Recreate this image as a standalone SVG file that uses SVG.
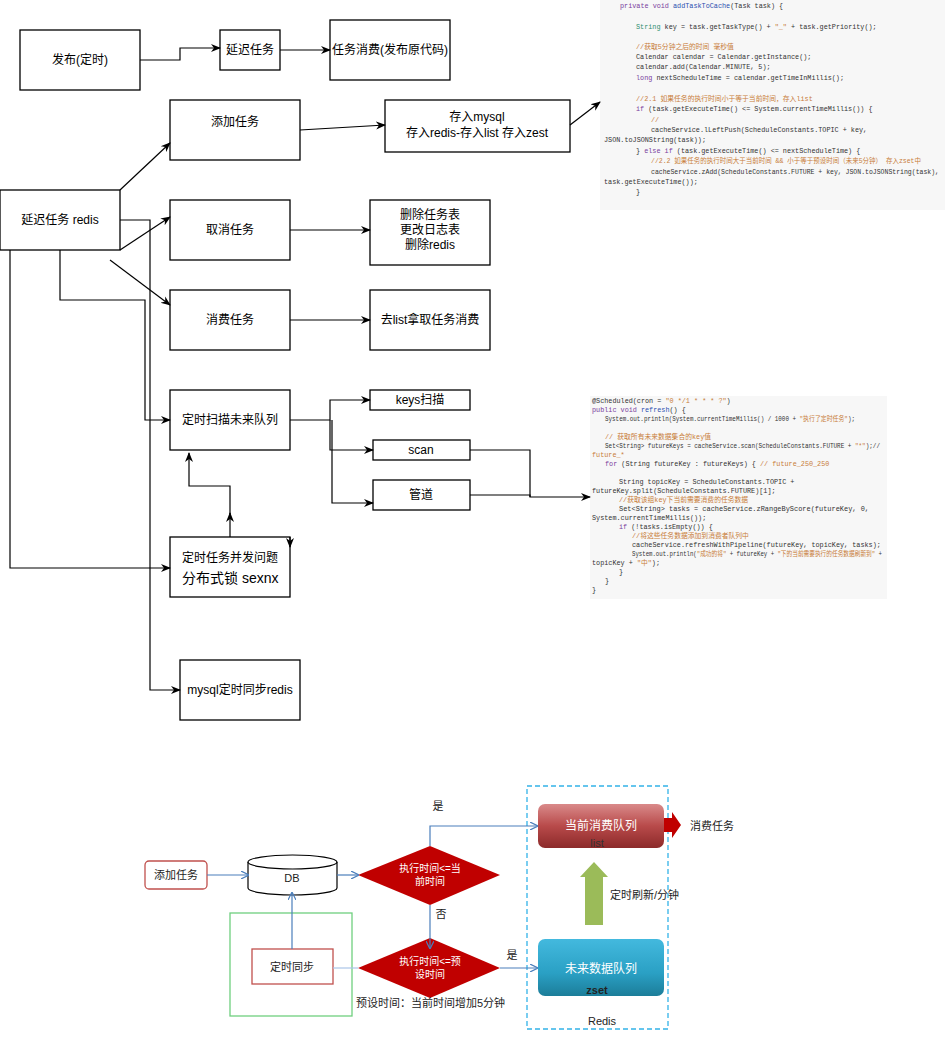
<svg xmlns="http://www.w3.org/2000/svg" width="945" height="1041" viewBox="0 0 945 1041">
<defs>
<marker id="ah" markerWidth="10" markerHeight="10" refX="9" refY="5" orient="auto" markerUnits="userSpaceOnUse"><path d="M0,1 L10,5 L0,9 L3,5 Z" fill="#000"/></marker>
<marker id="bh" markerWidth="8" markerHeight="8" refX="7" refY="4" orient="auto" markerUnits="userSpaceOnUse"><path d="M0,0 L8,4 L0,8" fill="none" stroke="#4a7ebb" stroke-width="1.2"/></marker>
<linearGradient id="gr" x1="0" y1="0" x2="0" y2="1"><stop offset="0" stop-color="#d98a8a"/><stop offset="0.5" stop-color="#b84a4a"/><stop offset="1" stop-color="#8c2a2a"/></linearGradient>
<linearGradient id="gb" x1="0" y1="0" x2="0" y2="1"><stop offset="0" stop-color="#43b9de"/><stop offset="0.6" stop-color="#2aa0c4"/><stop offset="1" stop-color="#1c7d99"/></linearGradient>
</defs>
<style>
.b{fill:#fff;stroke:#000;stroke-width:1.3}
.t{font-family:"Liberation Sans","Noto Sans CJK SC",sans-serif;font-size:12px;fill:#000;text-anchor:middle}
.c{stroke:#000;stroke-width:1.2;fill:none}
.code{font-family:"Liberation Mono","Noto Sans CJK SC",monospace;font-size:6.8px;fill:#333}
.k{fill:#7a3e9d}.g{fill:#2f8f6f}.o{fill:#c87d3a}
.bl{stroke:#4a7ebb;stroke-width:1.2;fill:none}
.s{font-family:"Liberation Sans","Noto Sans CJK SC",sans-serif;font-size:11px;fill:#222}
</style>
<rect width="945" height="1041" fill="#fff"/>

<g id="n-pub"><rect class="b" x="20" y="30" width="120" height="60"/><text class="t" x="80" y="64">发布(定时)</text></g>
<g id="n-delay"><rect class="b" x="220" y="30" width="60" height="40"/><text class="t" x="250" y="54">延迟任务</text></g>
<g id="n-consume0"><rect class="b" x="330" y="20" width="120" height="60"/><text class="t" x="390" y="54">任务消费(发布原代码)</text></g>
<g id="n-add"><rect class="b" x="170" y="100" width="130" height="60"/><text class="t" x="235" y="126">添加任务</text></g>
<g id="n-store"><rect class="b" x="385" y="100" width="185" height="52"/><text class="t" x="477" y="121">存入mysql</text><text class="t" x="477" y="137">存入redis-存入list 存入zest</text></g>
<g id="n-redis"><rect class="b" x="0" y="190" width="120" height="60"/><text class="t" x="60" y="224">延迟任务 redis</text></g>
<g id="n-cancel"><rect class="b" x="170" y="200" width="120" height="60"/><text class="t" x="230" y="234">取消任务</text></g>
<g id="n-del"><rect class="b" x="370" y="200" width="120" height="65"/><text class="t" x="430" y="219">删除任务表</text><text class="t" x="430" y="234">更改日志表</text><text class="t" x="430" y="249">删除redis</text></g>
<g id="n-cons"><rect class="b" x="170" y="290" width="120" height="60"/><text class="t" x="230" y="324">消费任务</text></g>
<g id="n-list"><rect class="b" x="370" y="290" width="120" height="60"/><text class="t" x="430" y="324">去list拿取任务消费</text></g>
<g id="n-scanq"><rect class="b" x="170" y="390" width="120" height="60"/><text class="t" x="230" y="424">定时扫描未来队列</text></g>
<g id="n-keys"><rect class="b" x="370" y="390" width="100" height="20"/><text class="t" x="420" y="404">keys扫描</text></g>
<g id="n-scan"><rect class="b" x="373" y="440" width="97" height="20"/><text class="t" x="421" y="454">scan</text></g>
<g id="n-pipe"><rect class="b" x="373" y="480" width="97" height="30"/><text class="t" x="421" y="499">管道</text></g>
<g id="n-lock"><rect class="b" x="170" y="537" width="120" height="60"/><text class="t" x="182" y="562" style="text-anchor:start">定时任务并发问题</text><text class="t" x="182" y="583" style="text-anchor:start;font-size:14px">分布式锁 sexnx</text></g>
<g id="n-mysql"><rect class="b" x="180" y="660" width="120" height="60"/><text class="t" x="240" y="694">mysql定时同步redis</text></g>

<g id="code1">
<rect x="600" y="0" width="345" height="210" fill="#f7f7f7"/>
<text class="code" x="620" y="8"><tspan class="k">private void </tspan><tspan fill="#2a4fb0">addTaskToCache</tspan>(Task task) {</text>
<text class="code" x="636" y="29"><tspan class="g">String</tspan> key = task.getTaskType() + <tspan class="o">"_"</tspan> + task.getPriority();</text>
<text class="code o" x="636" y="49">//获取5分钟之后的时间  毫秒值</text>
<text class="code" x="636" y="59">Calendar calendar = Calendar.getInstance();</text>
<text class="code" x="636" y="69">calendar.add(Calendar.MINUTE, 5);</text>
<text class="code" x="636" y="80"><tspan class="k">long</tspan> nextScheduleTime = calendar.getTimeInMillis();</text>
<text class="code o" x="636" y="101">//2.1 如果任务的执行时间小于等于当前时间，存入list</text>
<text class="code" x="636" y="111"><tspan class="k">if</tspan> (task.getExecuteTime() &lt;= System.currentTimeMillis()) {</text>
<text class="code o" x="651" y="122">//</text>
<text class="code" x="651" y="132">cacheService.lLeftPush(ScheduleConstants.TOPIC + key,</text>
<text class="code" x="604" y="142">JSON.toJSONString(task));</text>
<text class="code" x="636" y="153">} <tspan class="k">else if</tspan> (task.getExecuteTime() &lt;= nextScheduleTime) {</text>
<text class="code o" x="651" y="163" textLength="270" lengthAdjust="spacingAndGlyphs">//2.2 如果任务的执行时间大于当前时间 &amp;&amp; 小于等于预设时间（未来5分钟） 存入zset中</text>
<text class="code" x="651" y="174" textLength="288" lengthAdjust="spacingAndGlyphs">cacheService.zAdd(ScheduleConstants.FUTURE + key, JSON.toJSONString(task),</text>
<text class="code" x="604" y="184">task.getExecuteTime());</text>
<text class="code" x="636" y="194">}</text>
</g>

<g id="code2">
<rect x="590" y="396" width="297" height="203" fill="#f7f7f7"/>
<text class="code" x="592" y="403">@Scheduled(cron = <tspan class="o">"0 */1 * * * ?"</tspan>)</text>
<text class="code" x="592" y="412"><tspan class="k">public void </tspan><tspan fill="#2a4fb0">refresh</tspan>() {</text>
<text class="code" x="605" y="421" textLength="250" lengthAdjust="spacingAndGlyphs">System.out.println(System.currentTimeMillis() / 1000 + <tspan class="o">"执行了定时任务"</tspan>);</text>
<text class="code o" x="605" y="439">// 获取所有未来数据集合的key值</text>
<text class="code" x="605" y="448" textLength="275" lengthAdjust="spacingAndGlyphs">Set&lt;String&gt; futureKeys = cacheService.scan(ScheduleConstants.FUTURE + <tspan class="o">"*"</tspan>);//</text>
<text class="code o" x="592" y="457">future_*</text>
<text class="code" x="605" y="466"><tspan class="k">for</tspan> (String futureKey : futureKeys) { <tspan class="o">// future_250_250</tspan></text>
<text class="code" x="619" y="484">String topicKey = ScheduleConstants.TOPIC +</text>
<text class="code" x="592" y="493">futureKey.split(ScheduleConstants.FUTURE)[1];</text>
<text class="code o" x="619" y="502">//获取该组key下当前需要消费的任务数据</text>
<text class="code" x="619" y="511" textLength="250" lengthAdjust="spacingAndGlyphs">Set&lt;String&gt; tasks = cacheService.zRangeByScore(futureKey, 0,</text>
<text class="code" x="592" y="520">System.currentTimeMillis());</text>
<text class="code" x="619" y="529"><tspan class="k">if</tspan> (!tasks.isEmpty()) {</text>
<text class="code o" x="632" y="538">//将这些任务数据添加到消费者队列中</text>
<text class="code" x="632" y="547">cacheService.refreshWithPipeline(futureKey, topicKey, tasks);</text>
<text class="code" x="632" y="556" textLength="250" lengthAdjust="spacingAndGlyphs">System.out.println(<tspan class="o">"成功的将"</tspan> + futureKey + <tspan class="o">"下的当前需要执行的任务数据刷新到"</tspan> +</text>
<text class="code" x="592" y="565">topicKey + <tspan class="o">"中"</tspan>);</text>
<text class="code" x="619" y="574">}</text>
<text class="code" x="605" y="583">}</text>
<text class="code" x="592" y="592">}</text>
</g>

<g id="connectors">
<path class="c" d="M140,60 H180 V48 H220" marker-end="url(#ah)"/>
<path class="c" d="M280,50 H330" marker-end="url(#ah)"/>
<path class="c" d="M300,130 L385,125" marker-end="url(#ah)"/>
<path class="c" d="M570,125 L600,102" marker-end="url(#ah)"/>
<path class="c" d="M120,190 L170,143" marker-end="url(#ah)"/>
<path class="c" d="M120,250 L170,217" marker-end="url(#ah)"/>
<path class="c" d="M110,260 L170,305" marker-end="url(#ah)"/>
<path class="c" d="M120,220 H150 V690 H180" marker-end="url(#ah)"/>
<path class="c" d="M60,250 V300 H145 V420 H170" marker-end="url(#ah)"/>
<path class="c" d="M10,250 V568 H170" marker-end="url(#ah)"/>
<path class="c" d="M290,230 H370" marker-end="url(#ah)"/>
<path class="c" d="M290,320 H370" marker-end="url(#ah)"/>
<path class="c" d="M290,420 H330 V400 H370" marker-end="url(#ah)"/>
<path class="c" d="M330,420 V450 H373" marker-end="url(#ah)"/>
<path class="c" d="M332,420 V503 H373" marker-end="url(#ah)"/>
<path class="c" d="M470,450 H530 V497"/>
<path class="c" d="M470,495 H530 V497 H590" marker-end="url(#ah)"/>
<path class="c" d="M230,537 V513" marker-end="url(#ah)"/>
<path class="c" d="M230,514 V486 H189 V453" marker-end="url(#ah)"/>
<path class="c" d="M290,537 V547" marker-end="url(#ah)"/>
</g>

<g id="flow">
<rect x="230" y="913" width="122" height="103" fill="none" stroke="#6fcf7f" stroke-width="1.3"/>
<rect x="527" y="786" width="141" height="243" fill="none" stroke="#33b3e8" stroke-width="1.3" stroke-dasharray="5,3"/>
<g id="f-add"><rect x="145" y="861" width="62" height="28" rx="4" fill="#fff" stroke="#c0504d" stroke-width="1.3"/><text class="s" x="176" y="879" text-anchor="middle">添加任务</text></g>
<g id="f-db"><path d="M248,862 V888 A44.5,7 0 0 0 337,888 V862" fill="#fff" stroke="#000" stroke-width="1.2"/><ellipse cx="292.5" cy="862" rx="44.5" ry="7" fill="#fff" stroke="#000" stroke-width="1.2"/><text class="s" x="292" y="882" text-anchor="middle" font-size="10">DB</text></g>
<g id="f-d1"><polygon points="358,875 430,846 500,875 430,905" fill="#c00000"/><text class="s" x="430" y="872" text-anchor="middle" style="fill:#fff;font-size:10px">执行时间&lt;=当</text><text class="s" x="430" y="885" text-anchor="middle" style="fill:#fff;font-size:10px">前时间</text></g>
<g id="f-d2"><polygon points="358,968 430,938 500,968 430,998" fill="#c00000"/><text class="s" x="430" y="965" text-anchor="middle" style="fill:#fff;font-size:10px">执行时间&lt;=预</text><text class="s" x="430" y="978" text-anchor="middle" style="fill:#fff;font-size:10px">设时间</text></g>
<g id="f-sync"><rect x="252" y="949" width="81" height="35" fill="#fff" stroke="#c0504d" stroke-width="1.3"/><text class="s" x="292" y="971" text-anchor="middle">定时同步</text></g>
<g id="f-cur"><rect x="538" y="804" width="126" height="44" rx="7" fill="url(#gr)"/><text class="s" x="601" y="830" text-anchor="middle" style="fill:#fff;font-size:12px">当前消费队列</text><text class="s" x="597" y="847" text-anchor="middle" style="fill:#333">list</text></g>
<g id="f-fut"><rect x="538" y="939" width="126" height="57" rx="7" fill="url(#gb)"/><text class="s" x="601" y="973" text-anchor="middle" style="fill:#fff;font-size:12px">未来数据队列</text><text class="s" x="597" y="994" text-anchor="middle" style="fill:#222;font-weight:bold">zset</text></g>
<polygon points="664,818 672,818 672,812 681,825 672,838 672,832 664,832" fill="#c00000"/>
<polygon points="585,925 585,877 580,877 594,862 608,877 603,877 603,925" fill="#9bbb59"/>
<path class="bl" d="M207,875 H248" marker-end="url(#bh)"/>
<path class="bl" d="M337,875 H358" marker-end="url(#bh)"/>
<path class="bl" d="M430,846 V826 H537" marker-end="url(#bh)"/>
<path class="bl" d="M430,905 V948" marker-end="url(#bh)"/>
<path class="bl" d="M500,968 H537" marker-end="url(#bh)"/>
<path d="M333,968 H358" stroke="#a9c4e8" stroke-width="1.2" fill="none"/>
<path class="bl" d="M292,949 V893" marker-end="url(#bh)"/>
<text class="s" x="438" y="810" text-anchor="middle">是</text>
<text class="s" x="441" y="918" text-anchor="middle">否</text>
<text class="s" x="512" y="959" text-anchor="middle">是</text>
<text class="s" x="690" y="830">消费任务</text>
<text class="s" x="610" y="899">定时刷新/分钟</text>
<text class="s" x="356" y="1007">预设时间：当前时间增加5分钟</text>
<text class="s" x="602" y="1025" text-anchor="middle">Redis</text>
</g>
</svg>
